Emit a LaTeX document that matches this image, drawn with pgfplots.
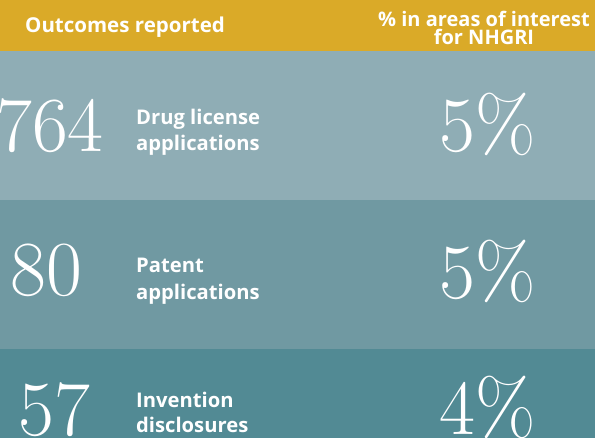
\documentclass[border=0pt]{standalone}
\usepackage{fontspec}
\setsansfont{Open Sans}
\usepackage{pgfplots}
\pgfplotsset{compat=1.18}
\definecolor{HeadGold}{HTML}{DAAA28}
\definecolor{RowOne}{HTML}{8FADB5}
\definecolor{RowTwo}{HTML}{7099A2}
\definecolor{RowThree}{HTML}{528A94}
\newcommand{\lab}{\sffamily\bfseries\fontsize{20.2}{20.2}\selectfont}
\newcommand{\bignum}{\rmfamily\fontsize{78}{78}\selectfont}

\begin{document}
\begin{tikzpicture}
\begin{axis}[
  name=board,
  scale only axis,
  width=595pt, height=438pt,
  xmin=0, xmax=595, ymin=0, ymax=438,
  y dir=reverse,
  hide axis,
  clip=true,
]
% bands (top, bottom in picture rows)
\addplot[fill=HeadGold, draw=none] coordinates {(0,0) (595,0) (595,51) (0,51)} -- cycle;
\addplot[fill=RowOne, draw=none] coordinates {(0,51) (595,51) (595,200) (0,200)} -- cycle;
\addplot[fill=RowTwo, draw=none] coordinates {(0,200) (595,200) (595,349) (0,349)} -- cycle;
\addplot[fill=RowThree, draw=none] coordinates {(0,349) (595,349) (595,438) (0,438)} -- cycle;

% header
\node[anchor=base west, text=white, inner sep=0pt, font=\sffamily\bfseries\fontsize{20.5}{20.5}\selectfont]
  at (axis cs:25,33) {Outcomes reported};
\node[anchor=base, text=white, inner sep=0pt, font=\sffamily\bfseries\fontsize{20}{20}\selectfont]
  at (axis cs:484,27) {\% in areas of interest};
\node[anchor=base, text=white, inner sep=0pt, font=\sffamily\bfseries\fontsize{20}{20}\selectfont]
  at (axis cs:484,45) {for NHGRI};

% counts
\node[anchor=base west, text=white, inner sep=0pt, font=\bignum] at (axis cs:-4,152) {764};
\node[anchor=base west, text=white, inner sep=0pt, font=\bignum] at (axis cs:10,296) {80};
\node[anchor=base west, text=white, inner sep=0pt, font=\bignum] at (axis cs:18,436) {57};

% labels
\node[anchor=base west, text=white, inner sep=0pt, font=\lab] at (axis cs:136,125) {Drug license};
\node[anchor=base west, text=white, inner sep=0pt, font=\lab] at (axis cs:136,151) {applications};
\node[anchor=base west, text=white, inner sep=0pt, font=\lab] at (axis cs:136,273) {Patent};
\node[anchor=base west, text=white, inner sep=0pt, font=\lab] at (axis cs:136,300) {applications};
\node[anchor=base west, text=white, inner sep=0pt, font=\lab] at (axis cs:136,408) {Invention};
\node[anchor=base west, text=white, inner sep=0pt, font=\lab] at (axis cs:136,433) {disclosures};

% shares
\node[anchor=base, text=white, inner sep=0pt, font=\bignum] at (axis cs:488,152) {5\%};
\node[anchor=base, text=white, inner sep=0pt, font=\bignum] at (axis cs:488,299) {5\%};
\node[anchor=base, text=white, inner sep=0pt, font=\bignum] at (axis cs:488,435) {4\%};
\end{axis}
\pgfresetboundingbox
\path[use as bounding box] (board.south west) rectangle (board.north east);
\end{tikzpicture}
\end{document}
